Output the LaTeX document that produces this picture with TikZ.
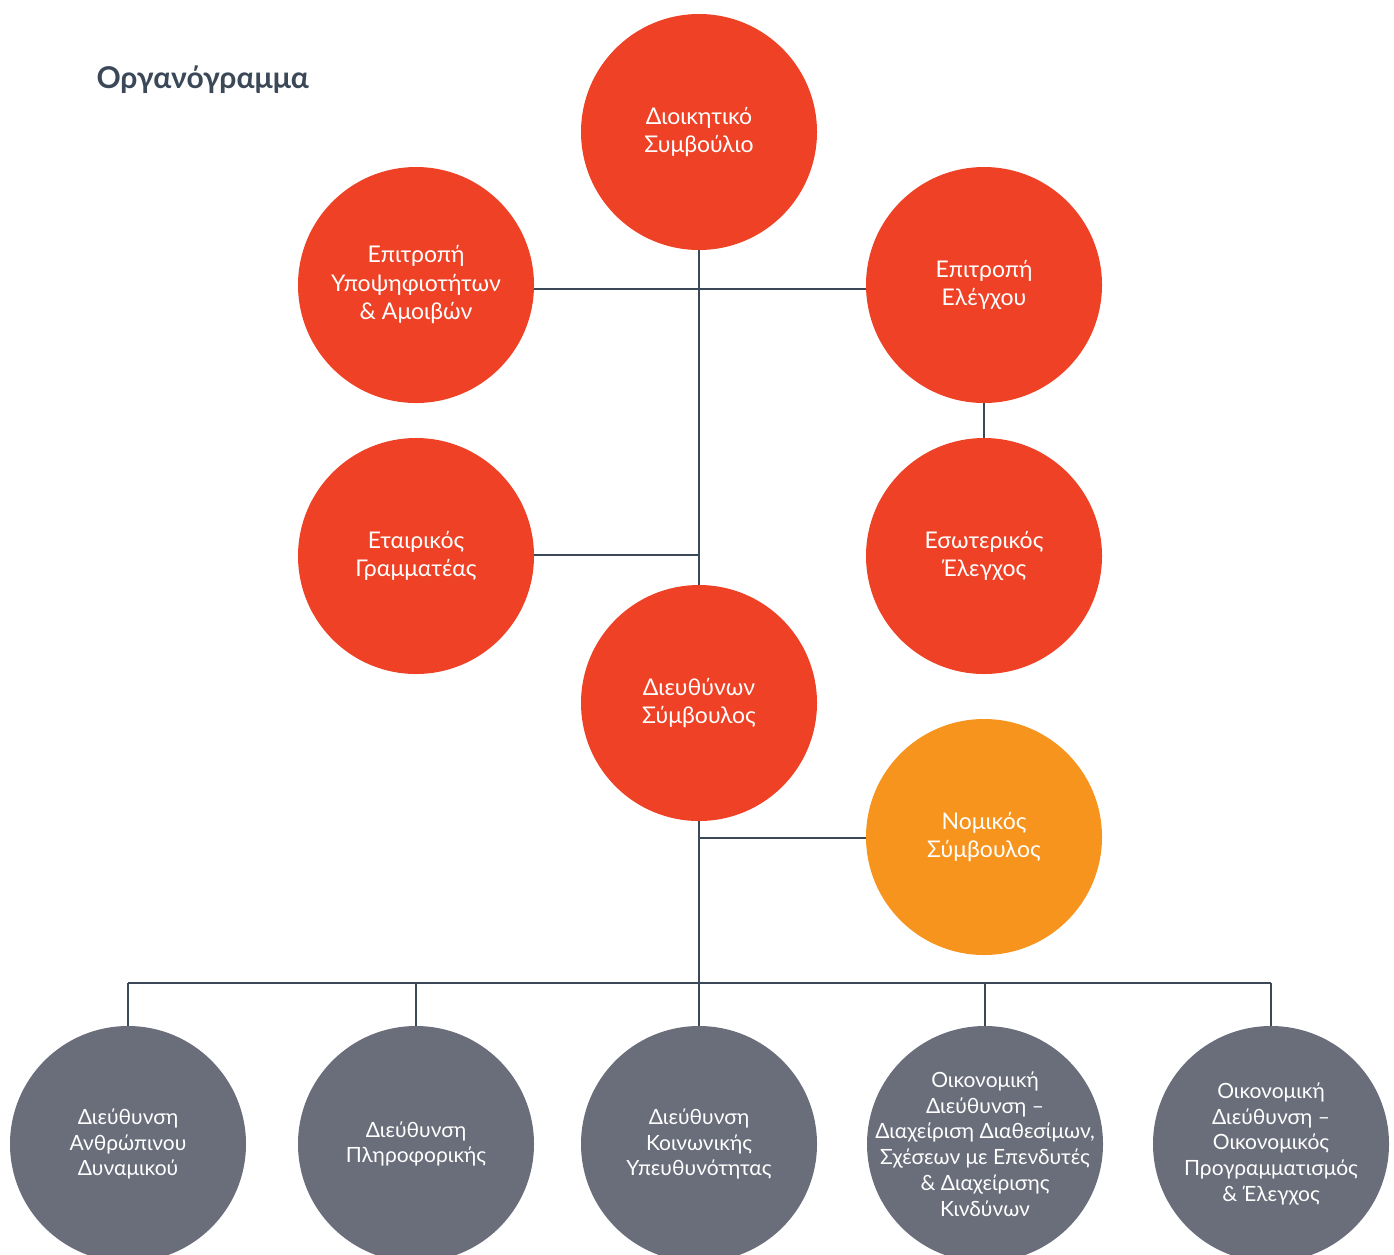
\documentclass[tikz,border=0pt]{standalone}
\usepackage{fontspec}
\setmainfont{Lato}
\definecolor{cred}{HTML}{EF4125}
\definecolor{corange}{HTML}{F7941D}
\definecolor{cgray}{HTML}{6A6D7A}
\definecolor{cline}{HTML}{3B4858}
\begin{document}
\begin{tikzpicture}[x=1pt,y=-1pt,
  circ/.style={circle,minimum size=236pt,inner sep=-40pt,text=white,align=center,font=\fontsize{23}{28.5}\selectfont},
  redc/.style={circ,fill=cred},
  orac/.style={circ,fill=corange},
  grac/.style={circ,fill=cgray,font=\fontsize{21}{25.8}\selectfont},
  conn/.style={draw=cline,line width=2.5pt}]
\useasboundingbox (0,0) rectangle (1394,1254);
\node[anchor=west,text=cline,font=\fontsize{30}{34}\selectfont\bfseries] (title) at (93,80) {Οργανόγραμμα};
\node[redc] (ds) at (699,132) {Διοικητικό\\Συμβούλιο};
\node[redc] (ey) at (416,285) {Επιτροπή\\Υποψηφιοτήτων\\\& Αμοιβών};
\node[redc] (ee) at (984,285) {Επιτροπή\\Ελέγχου};
\node[redc] (eg) at (416,556) {Εταιρικός\\Γραμματέας};
\node[redc] (es) at (984,556) {Εσωτερικός\\Έλεγχος};
\node[redc] (dsy) at (699,703) {Διευθύνων\\Σύμβουλος};
\node[orac] (ns) at (984,837) {Νομικός\\Σύμβουλος};
\node[grac] (b1) at (128,1144) {Διεύθυνση\\Ανθρώπινου\\Δυναμικού};
\node[grac] (b2) at (416,1144) {Διεύθυνση\\Πληροφορικής};
\node[grac] (b3) at (699,1144) {Διεύθυνση\\Κοινωνικής\\Υπευθυνότητας};
\node[grac] (b4) at (985,1144) {Οικονομική\\Διεύθυνση –\\Διαχείριση Διαθεσίμων,\\Σχέσεων με Επενδυτές\\\& Διαχείρισης\\Κινδύνων};
\node[grac] (b5) at (1271,1144) {Οικονομική\\Διεύθυνση –\\Οικονομικός\\Προγραμματισμός\\\& Έλεγχος};
\coordinate (j1) at (699,289);
\coordinate (j2) at (699,555);
\coordinate (j3) at (699,838);
\coordinate (bus) at (699,983);
\draw[conn] (ds.south) -- (dsy.north);
\draw[conn] (ey.east |- j1) -- (ee.west |- j1);
\draw[conn] (eg.east |- j2) -- (j2);
\draw[conn] (ee.south) -- (es.north);
\draw[conn] (dsy.south) -- (bus);
\draw[conn] (j3) -- (ns.west |- j3);
\draw[conn] (b1.north |- bus) -- (b5.north |- bus);
\foreach \b in {b1,b2,b3,b4,b5} \draw[conn] (\b.north |- bus) -- (\b.north);
\end{tikzpicture}
\end{document}
